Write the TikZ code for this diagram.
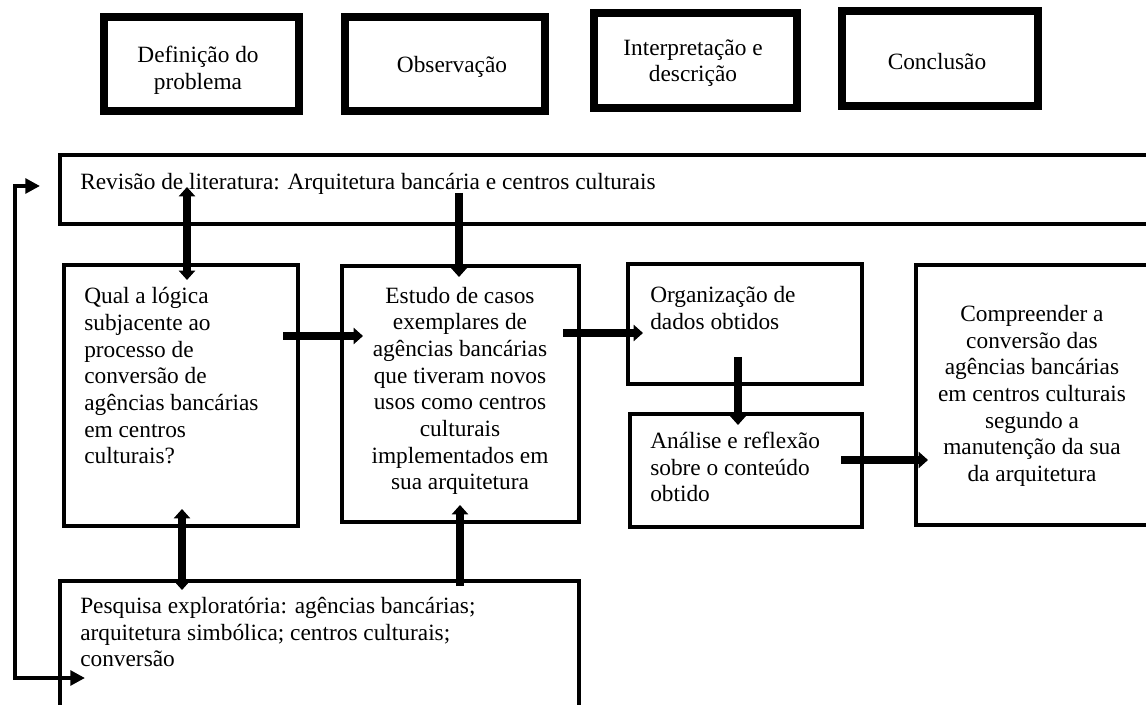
\documentclass[tikz,border=0pt]{standalone}
\usepackage{fontspec}
\setmainfont{Liberation Serif}
\usetikzlibrary{arrows.meta,fit}
\begin{document}
\begin{tikzpicture}[x=0.75pt,y=-0.75pt,
  topbox/.style={draw,line width=5.5pt,inner sep=0pt},
  flowbox/.style={draw,line width=3pt,inner sep=0pt},
  txt/.style={inner sep=0pt,font=\fontsize{17.5pt}{20pt}\selectfont},
  bigarrow/.style={line width=5.5pt,-{Triangle[length=7pt,width=12pt]}},
  bigboth/.style={line width=5.5pt,{Triangle[length=7pt,width=12pt]}-{Triangle[length=7pt,width=12pt]}},
  loopline/.style={line width=2.8pt,-{Triangle[length=11pt,width=11pt]}}]
\useasboundingbox (0,0) rectangle (1146,705);
\clip (0,0) rectangle (1146,705);
% top boxes
\node[topbox,fit={(104,17) (299,111)}] (b1) {};
\node[topbox,fit={(345,17) (545,111)}] (b2) {};
\node[topbox,fit={(594,13) (797,108)}] (b3) {};
\node[topbox,fit={(842,11) (1038,106)}] (b4) {};
\node[txt,align=center] (t1) at (198,70) {Definição do\\problema};
\node[txt,align=center] (t2) at (452,67) {Observação};
\node[txt,align=center] (t3) at (693,63) {Interpretação e\\descrição};
\node[txt,align=center] (t4) at (937,62) {Conclusão};
% flow boxes
\node[flowbox,fit={(60,155) (1170,224)}] (rev) {};
\node[flowbox,fit={(64,265) (298,526)}] (qual) {};
\node[flowbox,fit={(342,266) (579,522)}] (est) {};
\node[flowbox,fit={(628,264) (862,384)}] (org) {};
\node[flowbox,fit={(630,414) (862,527)}] (ana) {};
\node[flowbox,fit={(916,265) (1170,525)}] (comp) {};
\node[flowbox,fit={(60,581) (579,730)}] (pesq) {};
% texts
\node[txt,anchor=west] (revt) at (80,184) {Revisão de literatura: Arquitetura bancária e centros culturais};
\node[txt,anchor=west,align=left] (qualt) at (84,376) {Qual a lógica\\subjacente ao\\processo de\\conversão de\\agências bancárias\\em centros\\culturais?};
\node[txt,align=center] (estt) at (460,391) {Estudo de casos\\exemplares de\\agências bancárias\\que tiveram novos\\usos como centros\\culturais\\implementados em\\sua arquitetura};
\node[txt,anchor=west,align=left] (orgt) at (650,308) {Organização de\\dados obtidos};
\node[txt,anchor=west,align=left] (anat) at (650,467) {Análise e reflexão\\sobre o conteúdo\\obtido};
\node[txt,align=center] (compt) at (1032,396) {Compreender a\\conversão das\\agências bancárias\\em centros culturais\\segundo a\\manutenção da sua\\da arquitetura};
\node[txt,anchor=west,align=left] (pesqt) at (80,632) {Pesquisa exploratória: agências bancárias;\\arquitetura simbólica; centros culturais;\\conversão};
% connector end points
\coordinate (a1s) at (283,336); \coordinate (a1e) at (363,336);
\coordinate (a2s) at (563,333); \coordinate (a2e) at (643,333);
\coordinate (a3s) at (738,357); \coordinate (a3e) at (738,425);
\coordinate (a4s) at (841,460); \coordinate (a4e) at (928,460);
\coordinate (a5s) at (459,193); \coordinate (a5e) at (459,277);
\coordinate (a6s) at (460,586); \coordinate (a6e) at (460,505);
\coordinate (a7s) at (187,187); \coordinate (a7e) at (187,280);
\coordinate (a8s) at (182,509); \coordinate (a8e) at (182,590);
\coordinate (la) at (40,186); \coordinate (lx) at (15,430); \coordinate (lb) at (85,678);
% connectors
\draw[bigarrow] (a1s) -- (a1e);
\draw[bigarrow] (a2s) -- (a2e);
\draw[bigarrow] (a3s) -- (a3e);
\draw[bigarrow] (a4s) -- (a4e);
\draw[bigarrow] (a5s) -- (a5e);
\draw[bigarrow] (a6s) -- (a6e);
\draw[bigboth] (a7s) -- (a7e);
\draw[bigboth] (a8s) -- (a8e);
\draw[loopline,{Triangle[length=11pt,width=11pt]}-{Triangle[length=11pt,width=11pt]}] (la) -- (la -| lx) -- (lb -| lx) -- (lb);
\end{tikzpicture}
\end{document}
